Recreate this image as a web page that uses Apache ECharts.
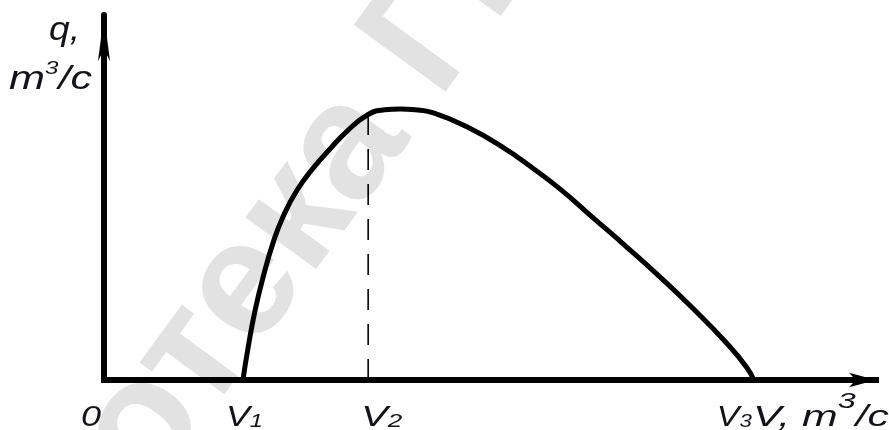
<!DOCTYPE html>
<html>
<head>
<meta charset="utf-8">
<script src="https://cdn.jsdelivr.net/npm/echarts@6/dist/echarts.min.js"></script>
<style>
  html, body { margin: 0; padding: 0; background: #fff; }
  #chart { width: 889px; height: 430px; }
</style>
</head>
<body>
<div id="chart"></div>
<script>
// Flow characteristic q(V), relative units on both axes
const curveV = [18.3, 19.0, 19.9, 21.0, 22.3, 23.6, 25.4, 27.5, 29.8, 32.0, 34.8, 37.0, 39.0, 41.0, 43.4, 47.8, 52.2, 56.5, 60.1, 64.4, 68.9, 73.3, 77.6, 82.1, 84.7, 85.6];
const curveQ = [0, 9.7, 20.3, 30.4, 40.3, 47.8, 55.4, 61.8, 67.6, 72.7, 77.6, 79.0, 79.2, 79.0, 78.1, 74.0, 68.5, 61.9, 55.8, 47.5, 38.8, 30.0, 20.9, 10.6, 3.6, 0];

// Characteristic points on the V axis
const V1 = 18.3;
const V2 = 34.8;
const V3 = 85.6;
const qAtV2 = 77.6;

// Tick captions: main letter + subscript
const tickValues = [0, V1, V2, V3];
const tickMain = ['0', 'V', 'V', 'V'];
const tickSub = ['', '1', '2', '3'];

// Axis titles (unit m³/c split into letter, exponent, rest)
const xTitle = ['V, m', '3', '/c'];
const yTitle = ['q,', 'm', '3', '/c'];

const watermarkText = 'Библиотека ГГТУ';

const FONT = '"Liberation Sans", Arial, sans-serif';
const INK = '#141418';

const chart = echarts.init(document.getElementById('chart'));

chart.setOption({
  animation: false,
  backgroundColor: '#fff',
  grid: { left: 104, right: 13, top: 15, bottom: 50 },
  xAxis: {
    type: 'value', min: 0, max: 101.7,
    axisLine: {
      show: true, onZero: false,
      symbol: ['none', 'arrow'], symbolSize: [11, 27],
      lineStyle: { color: '#000', width: 6, cap: 'square' }
    },
    axisTick: { show: false }, axisLabel: { show: false }, splitLine: { show: false }
  },
  yAxis: {
    type: 'value', min: 0, max: 106.7,
    axisLine: {
      show: true, onZero: false,
      symbol: ['none', 'arrow'], symbolSize: [9, 46],
      lineStyle: { color: '#000', width: 6 }
    },
    axisTick: { show: false }, axisLabel: { show: false }, splitLine: { show: false }
  },
  series: [
    {
      type: 'line',
      data: curveV.map((v, i) => [v, curveQ[i]]),
      showSymbol: false,
      smooth: 0.5,
      lineStyle: { color: '#000', width: 5 },
      z: 4
    },
    {
      type: 'line',
      data: [[V2, 0], [V2, qAtV2]],
      showSymbol: false,
      lineStyle: { color: '#000', width: 1.6, type: [21, 14] },
      z: 3
    }
  ]
});

// ---- text helpers ----
const ctx = document.createElement('canvas').getContext('2d');
function textWidth(str, font) { ctx.font = font; return ctx.measureText(str).width; }
function italic(size) { return 'italic ' + size + 'px ' + FONT; }

// Lay out text parts on a shared baseline, stretched horizontally to fill [left, right].
// A part may be raised by `up` pixels (exponents).
function fitParts(parts, left, right, baseline) {
  const widths = parts.map(p => textWidth(p.t, italic(p.f)));
  const total = widths.reduce((a, b) => a + b, 0);
  const sx = (right - left) / total;
  const els = [];
  let x = left;
  parts.forEach((p, i) => {
    els.push({
      type: 'text', z: 20,
      x: x, y: baseline - (p.up || 0) - 0.3465 * p.f,
      scaleX: sx, originX: 0, originY: 0,
      style: { text: p.t, font: italic(p.f), fill: INK, align: 'left', verticalAlign: 'middle' }
    });
    x += widths[i] * sx;
  });
  return els;
}

const graphics = [];

// Faint diagonal watermark behind the plot
const wmFont = 'bold 165px ' + FONT;
const wmLead = textWidth('Библи', wmFont) + textWidth('о', wmFont) / 2;
graphics.push({
  type: 'group', z: -10,
  x: 132, y: 420, rotation: 0.94,
  children: [{
    type: 'text', z: -10,
    x: -wmLead, y: 14,
    style: { text: watermarkText, font: wmFont, fill: '#e2e2e2', align: 'left', verticalAlign: 'middle' }
  }]
});

// Tick captions under the V axis
const tickLeftOffset = [-23, -17, -7, -37];
const tickSpan = [20, 37, 41, 35];
const baseY = 428;
tickValues.forEach((v, i) => {
  const px = chart.convertToPixel({ xAxisIndex: 0, yAxisIndex: 0 }, [v, 0])[0];
  const left = px + tickLeftOffset[i];
  const parts = [{ t: tickMain[i], f: 29 }];
  if (tickSub[i]) parts.push({ t: tickSub[i], f: 19 });
  graphics.push(...fitParts(parts, left, left + tickSpan[i], baseY));
});

// Axis titles
graphics.push(...fitParts([
  { t: xTitle[0], f: 29 }, { t: xTitle[1], f: 22, up: 19 }, { t: xTitle[2], f: 29 }
], 753, 889, baseY));
graphics.push(...fitParts([{ t: yTitle[0], f: 34 }], 49, 80, 42));
graphics.push(...fitParts([
  { t: yTitle[1], f: 34 }, { t: yTitle[2], f: 19, up: 16 }, { t: yTitle[3], f: 34 }
], 9, 92, 91));

chart.setOption({ graphic: { elements: graphics } });
</script>
</body>
</html>
